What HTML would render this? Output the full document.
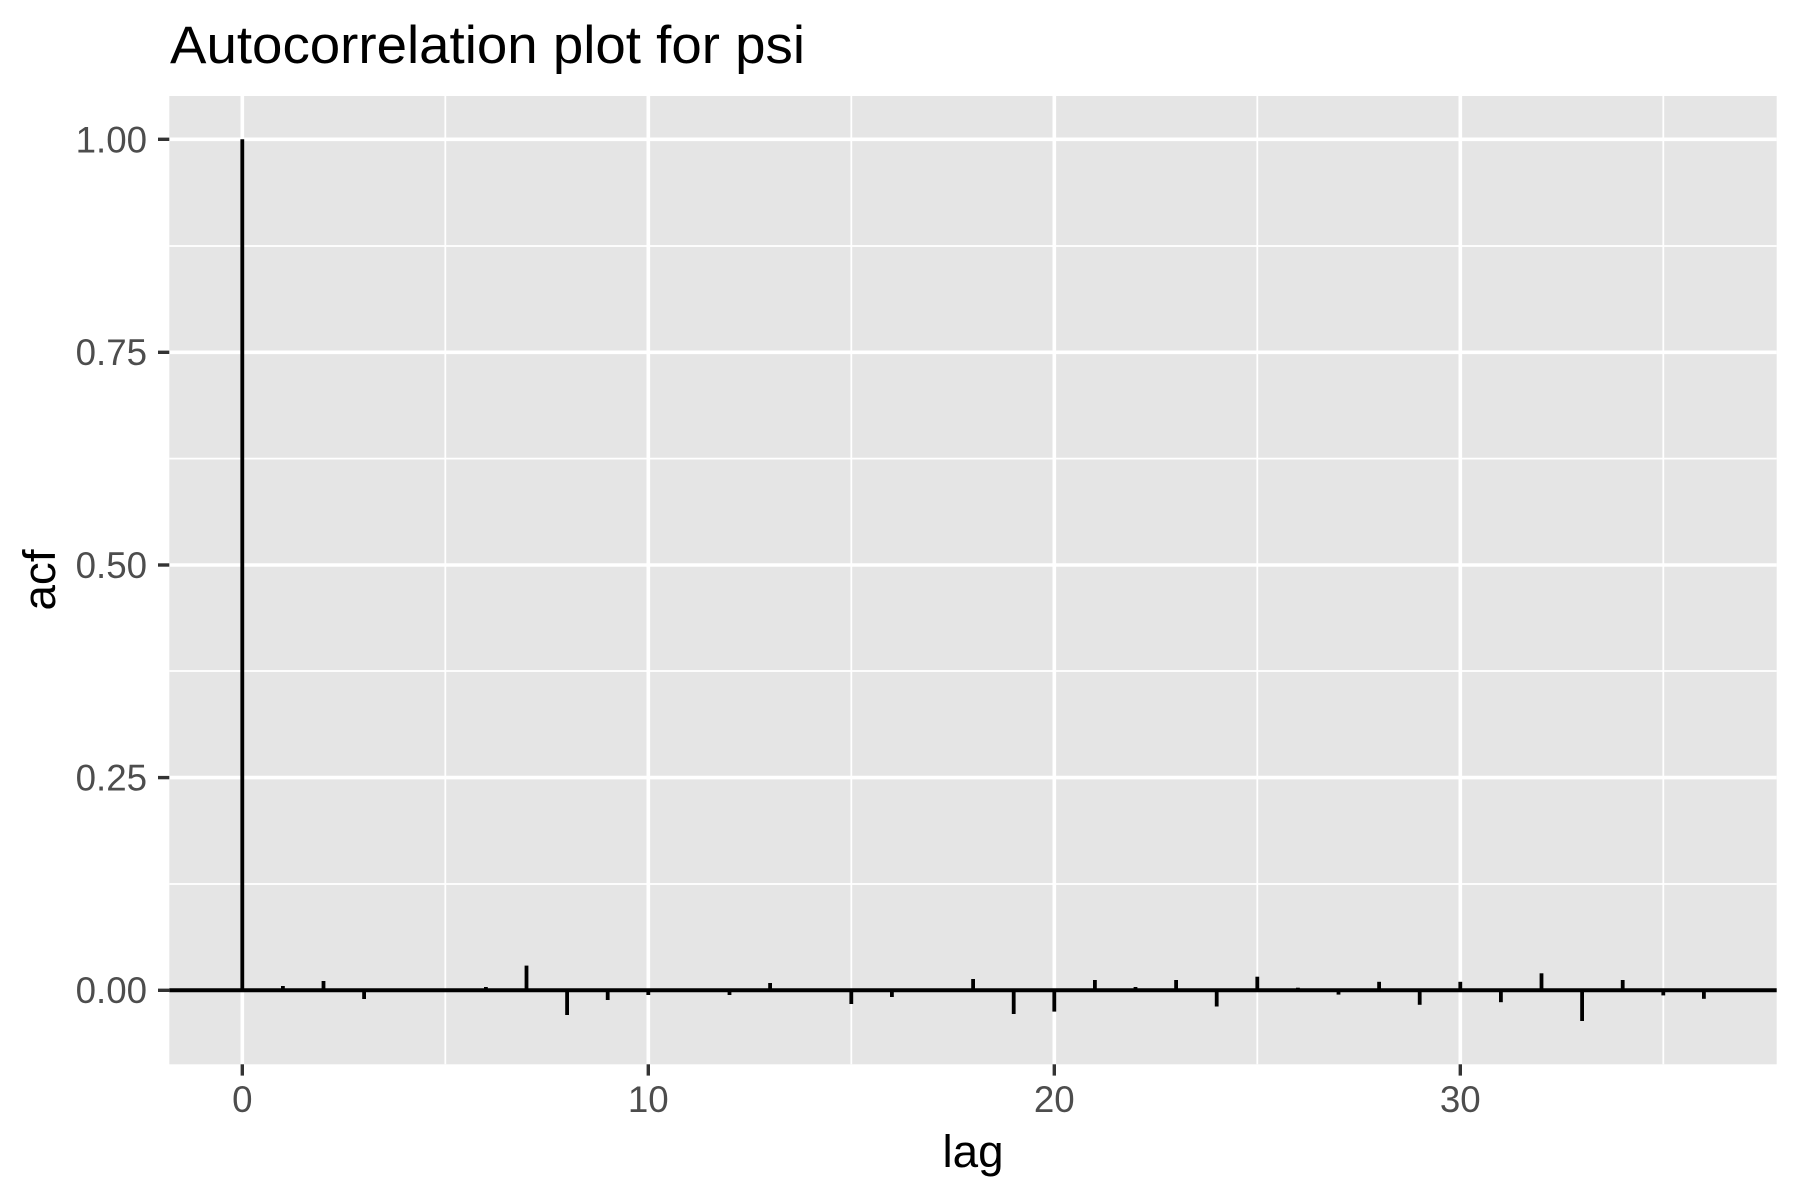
<!DOCTYPE html>
<html><head><meta charset="utf-8"><style>
html,body{margin:0;padding:0;background:#fff;}
svg{display:block;}
text{font-family:"Liberation Sans",Arial,sans-serif;}
</style></head><body>
<svg width="1800" height="1200" viewBox="0 0 1800 1200" xmlns="http://www.w3.org/2000/svg">
<rect x="0" y="0" width="1800" height="1200" fill="#fff"/>
<rect x="169.3" y="96" width="1607.4" height="968.3" fill="#e5e5e5"/>
<g stroke="#fff" stroke-width="1.8">
<line x1="169.3" x2="1776.7" y1="884" y2="884"/>
<line x1="169.3" x2="1776.7" y1="671" y2="671"/>
<line x1="169.3" x2="1776.7" y1="458.6" y2="458.6"/>
<line x1="169.3" x2="1776.7" y1="246" y2="246"/>
<line y1="96" y2="1064.3" x1="445.3" x2="445.3"/>
<line y1="96" y2="1064.3" x1="851.3" x2="851.3"/>
<line y1="96" y2="1064.3" x1="1257.3" x2="1257.3"/>
<line y1="96" y2="1064.3" x1="1663.3" x2="1663.3"/>
</g>
<g stroke="#fff" stroke-width="3.6">
<line x1="169.3" x2="1776.7" y1="990.3" y2="990.3"/>
<line x1="169.3" x2="1776.7" y1="777.6" y2="777.6"/>
<line x1="169.3" x2="1776.7" y1="565" y2="565"/>
<line x1="169.3" x2="1776.7" y1="352.3" y2="352.3"/>
<line x1="169.3" x2="1776.7" y1="139.3" y2="139.3"/>
<line y1="96" y2="1064.3" x1="242.3" x2="242.3"/>
<line y1="96" y2="1064.3" x1="648.3" x2="648.3"/>
<line y1="96" y2="1064.3" x1="1054.3" x2="1054.3"/>
<line y1="96" y2="1064.3" x1="1460.3" x2="1460.3"/>
</g>
<line x1="169.3" x2="1776.7" y1="990.3" y2="990.3" stroke="#000" stroke-width="4"/>
<g stroke="#333" stroke-width="3.4">
<line x1="158" x2="169.3" y1="990.3" y2="990.3"/>
<line x1="158" x2="169.3" y1="777.6" y2="777.6"/>
<line x1="158" x2="169.3" y1="565" y2="565"/>
<line x1="158" x2="169.3" y1="352.3" y2="352.3"/>
<line x1="158" x2="169.3" y1="139.3" y2="139.3"/>
<line y1="1064.3" y2="1075.6" x1="242.3" x2="242.3"/>
<line y1="1064.3" y2="1075.6" x1="648.3" x2="648.3"/>
<line y1="1064.3" y2="1075.6" x1="1054.3" x2="1054.3"/>
<line y1="1064.3" y2="1075.6" x1="1460.3" x2="1460.3"/>
</g>
<g fill="#4d4d4d" font-size="36.7" text-anchor="end">
<text x="147" y="1003">0.00</text>
<text x="147" y="790.5">0.25</text>
<text x="147" y="578">0.50</text>
<text x="147" y="365">0.75</text>
<text x="147" y="152.3">1.00</text>
</g>
<g fill="#4d4d4d" font-size="36.7" text-anchor="middle">
<text x="242.3" y="1112">0</text>
<text x="648.3" y="1112">10</text>
<text x="1054.3" y="1112">20</text>
<text x="1460.3" y="1112">30</text>
</g>
<text x="973" y="1167" font-size="45.8" text-anchor="middle" fill="#000">lag</text>
<text transform="translate(55,580) rotate(-90)" font-size="45.8" text-anchor="middle" fill="#000">acf</text>
<text x="170" y="63" font-size="53" fill="#000" textLength="635" lengthAdjust="spacingAndGlyphs">Autocorrelation plot for psi</text>
<g stroke="#000" stroke-width="3.8">
<line x1="242.3" x2="242.3" y1="990.3" y2="139.3"/>
<line x1="282.9" x2="282.9" y1="990.3" y2="986"/>
<line x1="323.5" x2="323.5" y1="990.3" y2="981"/>
<line x1="364.1" x2="364.1" y1="990.3" y2="999"/>
<line x1="485.9" x2="485.9" y1="990.3" y2="987"/>
<line x1="526.5" x2="526.5" y1="990.3" y2="965.6"/>
<line x1="567.1" x2="567.1" y1="990.3" y2="1015"/>
<line x1="607.7" x2="607.7" y1="990.3" y2="1000"/>
<line x1="648.3" x2="648.3" y1="990.3" y2="995"/>
<line x1="729.5" x2="729.5" y1="990.3" y2="995"/>
<line x1="770.1" x2="770.1" y1="990.3" y2="983"/>
<line x1="851.3" x2="851.3" y1="990.3" y2="1004"/>
<line x1="891.9" x2="891.9" y1="990.3" y2="997"/>
<line x1="973.1" x2="973.1" y1="990.3" y2="979"/>
<line x1="1013.7" x2="1013.7" y1="990.3" y2="1014"/>
<line x1="1054.3" x2="1054.3" y1="990.3" y2="1011.6"/>
<line x1="1094.9" x2="1094.9" y1="990.3" y2="980"/>
<line x1="1135.5" x2="1135.5" y1="990.3" y2="987"/>
<line x1="1176.1" x2="1176.1" y1="990.3" y2="980"/>
<line x1="1216.7" x2="1216.7" y1="990.3" y2="1006.5"/>
<line x1="1257.3" x2="1257.3" y1="990.3" y2="976.7"/>
<line x1="1297.9" x2="1297.9" y1="990.3" y2="987.7"/>
<line x1="1338.5" x2="1338.5" y1="990.3" y2="994.6"/>
<line x1="1379.1" x2="1379.1" y1="990.3" y2="981.8"/>
<line x1="1419.7" x2="1419.7" y1="990.3" y2="1004.8"/>
<line x1="1460.3" x2="1460.3" y1="990.3" y2="981.8"/>
<line x1="1500.9" x2="1500.9" y1="990.3" y2="1002.2"/>
<line x1="1541.5" x2="1541.5" y1="990.3" y2="973.3"/>
<line x1="1582.1" x2="1582.1" y1="990.3" y2="1021"/>
<line x1="1622.7" x2="1622.7" y1="990.3" y2="980"/>
<line x1="1663.3" x2="1663.3" y1="990.3" y2="995.4"/>
<line x1="1703.9" x2="1703.9" y1="990.3" y2="998.8"/>
</g>
</svg>
</body></html>
